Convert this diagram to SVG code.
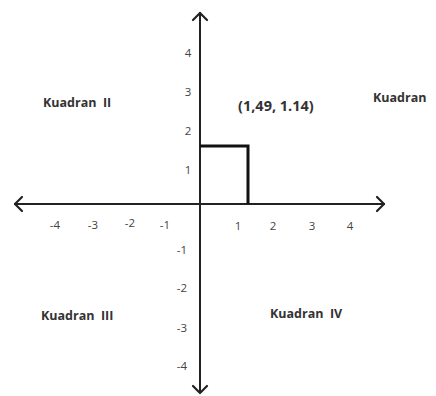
<svg xmlns="http://www.w3.org/2000/svg" width="436" height="396" viewBox="0 0 436 396">
<style>
.n{font-family:"Open Sans","Liberation Sans",sans-serif;font-size:11.5px;fill:#444;text-anchor:middle;dominant-baseline:central}
.q{font-family:"Open Sans","Liberation Sans",sans-serif;font-size:12.5px;font-weight:bold;fill:#333;dominant-baseline:central;white-space:pre}
.ax{stroke:#222;stroke-width:2;fill:none}
.ah{stroke:#222;stroke-width:2.2;fill:none;stroke-linecap:round;stroke-linejoin:round}
</style>
<rect width="436" height="396" fill="#fff"/>
<g id="connectors">
<line class="ax" x1="14" y1="204" x2="385" y2="204"/>
<line class="ax" x1="200" y1="12" x2="200" y2="393"/>
<polyline class="ah" points="22,197 15,204 22,211"/>
<polyline class="ah" points="377,197 384,204 377,211"/>
<polyline class="ah" points="193,20 200,13 207,20"/>
<polyline class="ah" points="193,386 200,393 207,386"/>
<polyline points="200,146 248,146 248,204" fill="none" stroke="#111" stroke-width="3"/>
</g>
<g id="ylabels">
<text class="n" x="188" y="52">4</text>
<text class="n" x="188" y="91">3</text>
<text class="n" x="188" y="130">2</text>
<text class="n" x="188" y="169">1</text>
<text class="n" x="182" y="249">-1</text>
<text class="n" x="182" y="287">-2</text>
<text class="n" x="182" y="327">-3</text>
<text class="n" x="182" y="365">-4</text>
</g>
<g id="xlabels">
<text class="n" x="55" y="224">-4</text>
<text class="n" x="93" y="224">-3</text>
<text class="n" x="130" y="222">-2</text>
<text class="n" x="165" y="224">-1</text>
<text class="n" x="238" y="225">1</text>
<text class="n" x="273" y="225">2</text>
<text class="n" x="312" y="225">3</text>
<text class="n" x="350" y="225">4</text>
</g>
<g id="q2"><text class="q" x="43" y="102" xml:space="preserve">Kuadran  II</text></g>
<g id="q1"><text class="q" x="373" y="97">Kuadran</text></g>
<g id="q3"><text class="q" x="41" y="315" xml:space="preserve">Kuadran  III</text></g>
<g id="q4"><text class="q" x="270" y="313" xml:space="preserve">Kuadran  IV</text></g>
<g id="point"><text class="q" x="238" y="105" style="font-size:14.5px">(1,49, 1.14)</text></g>
</svg>
